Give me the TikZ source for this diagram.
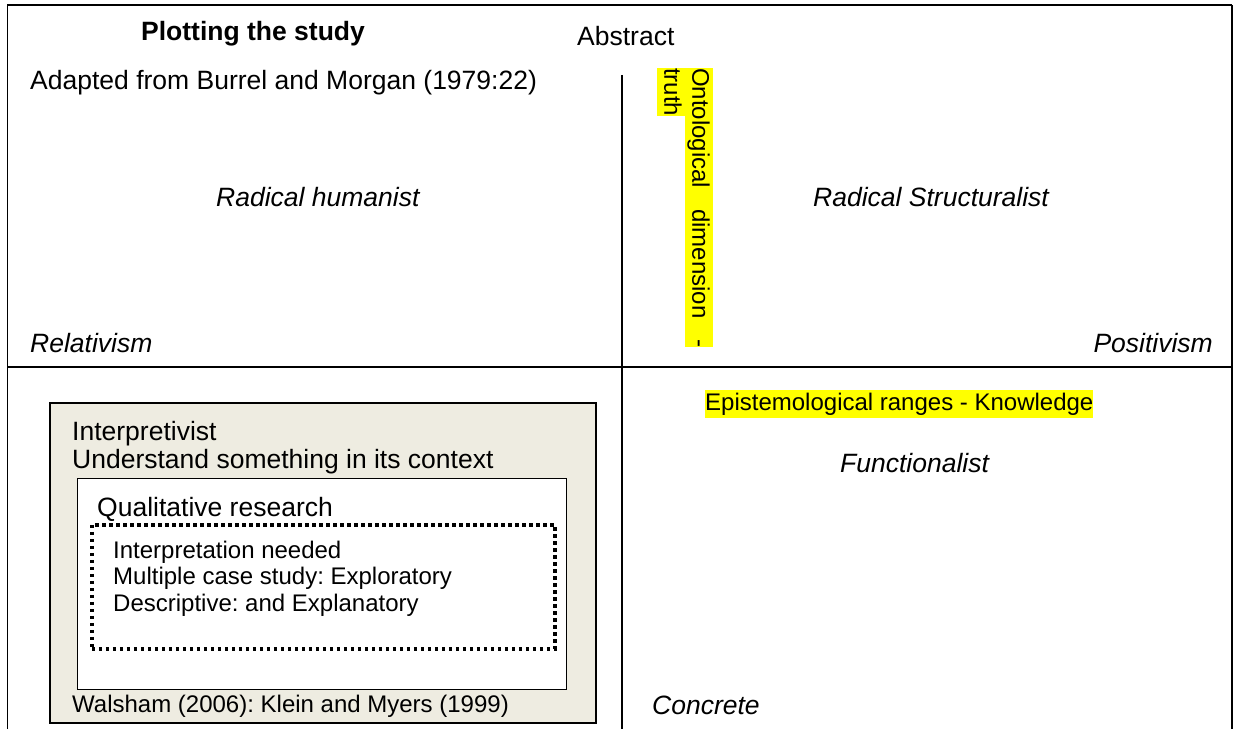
\documentclass[tikz,border=0pt]{standalone}
\usepackage{fontspec}
\setmainfont{Liberation Sans}
\frenchspacing
\definecolor{tanbg}{HTML}{EEECE1}
\definecolor{hlyellow}{HTML}{FFFF00}
\newcommand{\bigsize}{\fontsize{26.5}{30}\selectfont}
\newcommand{\smallsize}{\fontsize{24}{27.6}\selectfont}
\begin{document}
\begin{tikzpicture}[x=1pt,y=1pt,
  frame/.style={line width=1.7pt},
  lbl/.style={inner sep=0pt,font=\bigsize,anchor=base west},
  slbl/.style={inner sep=0pt,font=\smallsize,anchor=base west},
  quad/.style={inner sep=0pt,font=\bigsize\itshape,anchor=base west},
  hl/.style={inner sep=0pt,fill=hlyellow,font=\smallsize,text height=20.5pt,text depth=7.5pt}]
\useasboundingbox (0,0) rectangle (1233,729);

% outer frame and the two axes
\coordinate (tl) at (7.5,724);
\coordinate (tr) at (1232,724);
\coordinate (bl) at (7.5,0);
\coordinate (br) at (1232,0);
\coordinate (hl) at (7.5,362);
\coordinate (hr) at (1232,362);
\coordinate (vt) at (622,654);
\coordinate (vb) at (622,0);
\draw[frame] (bl) -- (tl) -- (tr);
\draw[line width=1.2pt] (tr) -- (br);
\draw[frame] (hl) -- (hr);
\draw[frame] (vt) -- (vb);

% heading and axis end labels
\node[inner sep=0pt,font=\bigsize\bfseries,anchor=base] (title) at (253,688) {Plotting the study};
\node[lbl] (abstract) at (577,683) {Abstract};
\node[lbl] (source) at (30,639) {Adapted from Burrel and Morgan (1979:22)};
\node[quad] (relativism) at (30,376) {Relativism};
\node[quad,anchor=base east] (positivism) at (1213,376) {Positivism};
\node[quad] (concrete) at (652,15) {Concrete};

% quadrant names
\node[quad] (rhum) at (216,522) {Radical humanist};
\node[quad] (rstr) at (813,522) {Radical Structuralist};
\node[quad] (func) at (840,257) {Functionalist};

% highlighted dimension labels
\node[hl,rotate=-90,anchor=north west] (onto) at (713,661)
  {\hbox to 279pt{Ontological\hfill dimension\hfill -}};
\node[hl,rotate=-90,anchor=north west] (truth) at (685,661) {truth};
\node[hl,anchor=base west] (epist) at (705,319) {Epistemological ranges - Knowledge};

% interpretivist paradigm box
\node[draw,line width=1.5pt,fill=tanbg,inner sep=0pt,minimum width=546pt,minimum height=320pt,anchor=north west] (interp) at (49,327) {};
\node[lbl] (ititle) at (72,289) {Interpretivist};
\node[lbl] (idesc) at (72,261) {Understand something in its context};
\node[draw,line width=1.3pt,fill=white,inner sep=0pt,minimum width=489pt,minimum height=211pt,anchor=north west] (qual) at (77,251) {};
\node[lbl] (qtitle) at (97,213) {Qualitative research};
\node[draw,line width=3.5pt,dash pattern=on 3.5pt off 3.5pt,inner sep=0pt,minimum width=463pt,minimum height=124pt,anchor=north west] (detail) at (90,206) {};
\node[slbl] (d1) at (113,171) {Interpretation needed};
\node[slbl] (d2) at (113,145) {Multiple case study: Exploratory};
\node[slbl] (d3) at (113,118) {Descriptive: and Explanatory};
\node[slbl] (refs) at (72,17) {Walsham (2006): Klein and Myers (1999)};
\end{tikzpicture}
\end{document}
